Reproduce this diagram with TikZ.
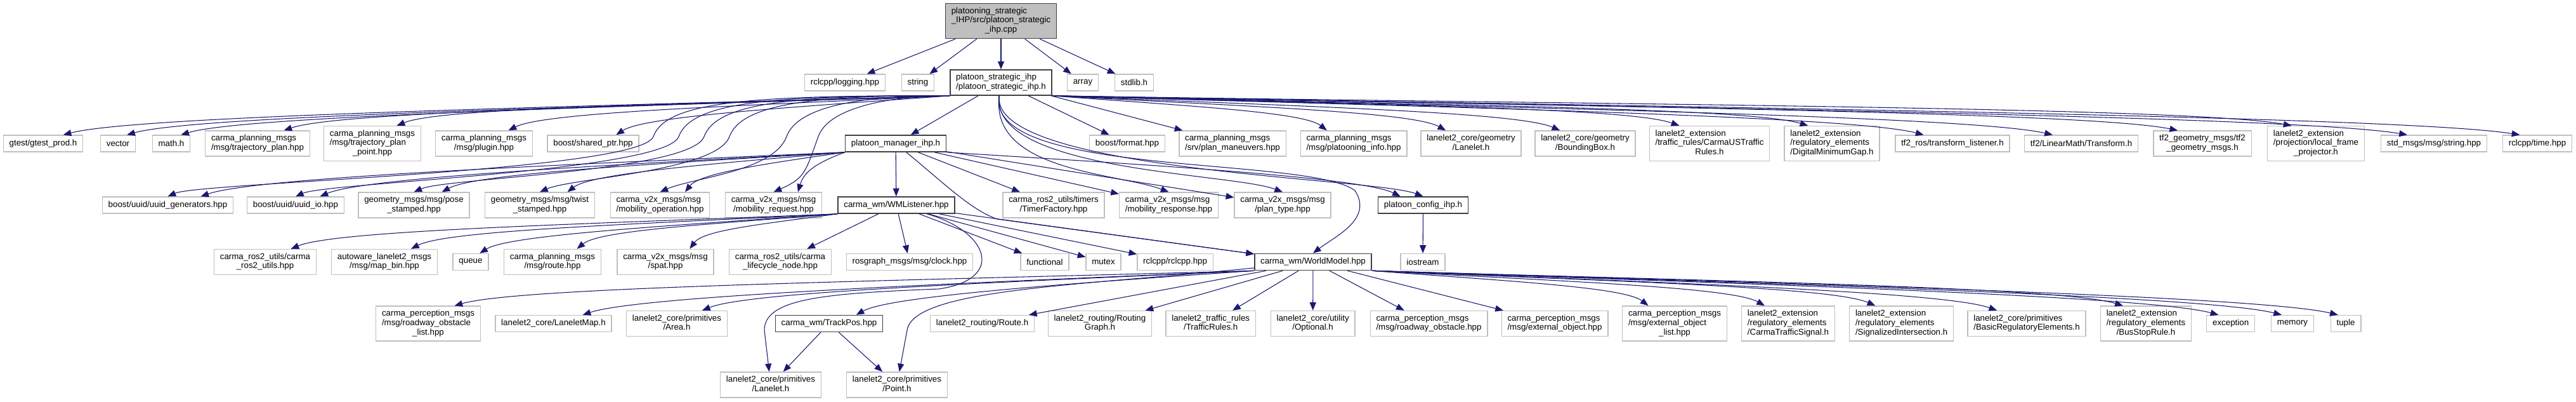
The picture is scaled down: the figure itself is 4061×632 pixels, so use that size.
\documentclass[tikz,border=0pt]{standalone}
\usepackage{fontspec}
\setmainfont{Liberation Sans}
\usetikzlibrary{arrows.meta,calc}
\definecolor{edgeblue}{RGB}{25,25,112}
\definecolor{boxgrey}{RGB}{191,191,191}
\definecolor{boxdark}{RGB}{64,64,64}
\newcommand{\twoline}[2]{\begin{tabular}{@{}l@{}}#1\\\multicolumn{1}{@{}c@{}}{#2}\end{tabular}}
\newcommand{\threeline}[3]{\begin{tabular}{@{}l@{}}#1\\#2\\\multicolumn{1}{@{}c@{}}{#3}\end{tabular}}
% include arrow: leaves flat, drops onto the top of the target (on the side facing the source)
\newcommand{\dep}[2]{\draw[dep] let \p1=(#1), \p2=(#2.north), \p3=(#2.north east), \n1={0.5*(\x3-\x2)*sign(\x2-\x1)} in (#1) .. controls ({\x1+0.45*(\x2-\x1)},{\y1+0.3*(\y2-\y1)}) and ({\x2-\n1-0.08*(\x2-\x1)},{\y2+22pt}) .. ({\x2-\n1},\y2);}
% from the header, down through the gap left of the manager
\newcommand{\sdep}[2]{\draw[dep] (stratH.south west) .. controls (#2+150,150) and (#2+20,160) .. (#2,215) .. controls (#2-20,270) and ($(#1.north)+(50,-22)$) .. (#1.north);}
% from the header, down first and then to the right
\newcommand{\ddep}[1]{\draw[dep] (stratH) .. controls (1560,270) and ($(#1.north)+(-80,-30)$) .. (#1.north);}

\begin{document}
\begin{tikzpicture}[x=0.75pt,y=-0.75pt,
  hdr/.style={draw=boxgrey,line width=1pt,fill=white,font=\fontsize{10}{11}\selectfont,
    inner xsep=7pt,inner ysep=0pt,minimum height=19.5pt},
  two/.style={minimum height=30pt},
  three/.style={minimum height=41.25pt},
  own/.style={draw=boxdark,line width=1.2pt},
  root/.style={fill=boxgrey,draw=boxdark,line width=1.2pt},
  dep/.style={draw=edgeblue,line width=0.8pt,-{Triangle[length=9.5pt,width=7.5pt]}}]
  \useasboundingbox (0,0) rectangle (4061,632);

  % source file and its direct includes
  \node[hdr,three,root] (root) at (1578,33) {\threeline{platooning\_strategic}{\_IHP/src/platoon\_strategic}{\_ihp.cpp}};
  \node[hdr] (logging) at (1332,130) {rclcpp/logging.hpp};
  \node[hdr] (string)  at (1447,130) {string};
  \node[hdr,two,own] (stratH) at (1578,130) {\twoline{platoon\_strategic\_ihp}{/platoon\_strategic\_ihp.h}};
  \node[hdr] (array)   at (1707,130) {array};
  \node[hdr] (stdlib)  at (1788,130) {stdlib.h};

  % headers of platoon_strategic_ihp.h
  \node[hdr] (gtest)  at (68,226)  {gtest/gtest\_prod.h};
  \node[hdr] (vector) at (186,226) {vector};
  \node[hdr] (mathh)  at (270,226) {math.h};
  \node[hdr,two]   (trajplan)  at (406,226) {\twoline{carma\_planning\_msgs}{/msg/trajectory\_plan.hpp}};
  \node[hdr,three] (trajpoint) at (587,226) {\threeline{carma\_planning\_msgs}{/msg/trajectory\_plan}{\_point.hpp}};
  \node[hdr,two]   (plugin)    at (763,226) {\twoline{carma\_planning\_msgs}{/msg/plugin.hpp}};
  \node[hdr] (sharedptr) at (935,226) {boost/shared\_ptr.hpp};
  \node[hdr,own] (manager) at (1412,226) {platoon\_manager\_ihp.h};
  \node[hdr] (format) at (1777,226) {boost/format.hpp};
  \node[hdr,two]   (planman)    at (1943,226) {\twoline{carma\_planning\_msgs}{/srv/plan\_maneuvers.hpp}};
  \node[hdr,two]   (platinfo)   at (2134,226) {\twoline{carma\_planning\_msgs}{/msg/platooning\_info.hpp}};
  \node[hdr,two]   (geolanelet) at (2319,226) {\twoline{lanelet2\_core/geometry}{/Lanelet.h}};
  \node[hdr,two]   (bbox)       at (2499,226) {\twoline{lanelet2\_core/geometry}{/BoundingBox.h}};
  \node[hdr,three] (usrules)    at (2695,226) {\threeline{lanelet2\_extension}{/traffic\_rules/CarmaUSTraffic}{Rules.h}};
  \node[hdr,three] (mingap)     at (2888,226) {\threeline{lanelet2\_extension}{/regulatory\_elements}{/DigitalMinimumGap.h}};
  \node[hdr] (tflisten) at (3078,226) {tf2\_ros/transform\_listener.h};
  \node[hdr] (tftrans)  at (3281,226) {tf2/LinearMath/Transform.h};
  \node[hdr,two]   (tfgeom)    at (3472,226) {\twoline{tf2\_geometry\_msgs/tf2}{\_geometry\_msgs.h}};
  \node[hdr,three] (projector) at (3651,226) {\threeline{lanelet2\_extension}{/projection/local\_frame}{\_projector.h}};
  \node[hdr] (stdstr)  at (3837,226) {std\_msgs/msg/string.hpp};
  \node[hdr] (rcltime) at (4000,226) {rclcpp/time.hpp};

  % third row
  \node[hdr] (uuidgen) at (264.5,323) {boost/uuid/uuid\_generators.hpp};
  \node[hdr] (uuidio)  at (466,323)   {boost/uuid/uuid\_io.hpp};
  \node[hdr,two] (posest)  at (652.5,323)  {\twoline{geometry\_msgs/msg/pose}{\_stamped.hpp}};
  \node[hdr,two] (twistst) at (851,323)    {\twoline{geometry\_msgs/msg/twist}{\_stamped.hpp}};
  \node[hdr,two] (mobop)   at (1040.5,323) {\twoline{carma\_v2x\_msgs/msg}{/mobility\_operation.hpp}};
  \node[hdr,two] (mobreq)  at (1219.5,323) {\twoline{carma\_v2x\_msgs/msg}{/mobility\_request.hpp}};
  \node[hdr,own] (wmlisten) at (1413,323) {carma\_wm/WMListener.hpp};
  \node[hdr,two] (timer)    at (1661,323)   {\twoline{carma\_ros2\_utils/timers}{/TimerFactory.hpp}};
  \node[hdr,two] (mobresp)  at (1842.5,323) {\twoline{carma\_v2x\_msgs/msg}{/mobility\_response.hpp}};
  \node[hdr,two] (plantype) at (2022,323)   {\twoline{carma\_v2x\_msgs/msg}{/plan\_type.hpp}};
  \node[hdr,own] (config) at (2243.5,323) {platoon\_config\_ihp.h};

  % fourth row
  \node[hdr,two] (ros2utils) at (418,412.5) {\twoline{carma\_ros2\_utils/carma}{\_ros2\_utils.hpp}};
  \node[hdr,two] (mapbin)    at (606,412.5) {\twoline{autoware\_lanelet2\_msgs}{/msg/map\_bin.hpp}};
  \node[hdr] (queue) at (742,412.5) {queue};
  \node[hdr,two] (route)     at (871,412.5)  {\twoline{carma\_planning\_msgs}{/msg/route.hpp}};
  \node[hdr,two] (spat)      at (1049,412.5) {\twoline{carma\_v2x\_msgs/msg}{/spat.hpp}};
  \node[hdr,two] (lifecycle) at (1230,412.5) {\twoline{carma\_ros2\_utils/carma}{\_lifecycle\_node.hpp}};
  \node[hdr] (clock)      at (1434,412.5)   {rosgraph\_msgs/msg/clock.hpp};
  \node[hdr] (functional) at (1647,412.5)   {functional};
  \node[hdr] (mutex)      at (1739.5,412.5) {mutex};
  \node[hdr] (rclcpp)     at (1852.6,412.5) {rclcpp/rclcpp.hpp};
  \node[hdr,own] (worldmodel) at (2070,412.5) {carma\_wm/WorldModel.hpp};
  \node[hdr] (iostream)   at (2243,412.5)   {iostream};

  % headers of WorldModel.hpp
  \node[hdr,three] (obstlist) at (675,509.5) {\threeline{carma\_perception\_msgs}{/msg/roadway\_obstacle}{\_list.hpp}};
  \node[hdr] (laneletmap) at (872.5,509.5) {lanelet2\_core/LaneletMap.h};
  \node[hdr,two] (area) at (1067,509.5) {\twoline{lanelet2\_core/primitives}{/Area.h}};
  \node[hdr,own] (trackpos) at (1307,509.5) {carma\_wm/TrackPos.hpp};
  \node[hdr] (routeh) at (1548.6,509.5) {lanelet2\_routing/Route.h};
  \node[hdr,two] (routinggraph) at (1734,509.5)   {\twoline{lanelet2\_routing/Routing}{Graph.h}};
  \node[hdr,two] (trafficrules) at (1908.7,509.5) {\twoline{lanelet2\_traffic\_rules}{/TrafficRules.h}};
  \node[hdr,two] (optional)     at (2069.6,509.5) {\twoline{lanelet2\_core/utility}{/Optional.h}};
  \node[hdr,two] (obstacle)     at (2252.5,509.5) {\twoline{carma\_perception\_msgs}{/msg/roadway\_obstacle.hpp}};
  \node[hdr,two] (extobj)       at (2451,509.5)   {\twoline{carma\_perception\_msgs}{/msg/external\_object.hpp}};
  \node[hdr,three] (extlist)      at (2640,509.5)   {\threeline{carma\_perception\_msgs}{/msg/external\_object}{\_list.hpp}};
  \node[hdr,three] (signal)       at (2819,509.5)   {\threeline{lanelet2\_extension}{/regulatory\_elements}{/CarmaTrafficSignal.h}};
  \node[hdr,three] (intersection) at (2997.6,509.5) {\threeline{lanelet2\_extension}{/regulatory\_elements}{/SignalizedIntersection.h}};
  \node[hdr,two]   (basicreg)     at (3195,509.5)   {\twoline{lanelet2\_core/primitives}{/BasicRegulatoryElements.h}};
  \node[hdr,three] (busstop)      at (3383,509.5)   {\threeline{lanelet2\_extension}{/regulatory\_elements}{/BusStopRule.h}};
  \node[hdr] (exception) at (3516.6,509.5) {exception};
  \node[hdr] (memory)    at (3614,509.5)   {memory};
  \node[hdr] (tuple)     at (3698,509.5)   {tuple};

  % bottom row
  \node[hdr,two] (primlanelet) at (1215,606) {\twoline{lanelet2\_core/primitives}{/Lanelet.h}};
  \node[hdr,two] (point)       at (1414,606) {\twoline{lanelet2\_core/primitives}{/Point.h}};

  % includes of the source file
  \foreach \tgt in {logging,string,stratH,array,stdlib} {\draw[dep] (root) -- (\tgt);}

  % includes of platoon_strategic_ihp.h
  \foreach \tgt in {gtest,vector,mathh,trajplan,trajpoint,plugin,sharedptr} {\dep{stratH.south west}{\tgt}}
  \foreach \tgt in {manager,format,planman} {\draw[dep] (stratH) -- (\tgt);}
  \foreach \tgt in {platinfo,geolanelet,bbox,usrules,mingap,tflisten,tftrans,tfgeom,projector,stdstr,rcltime} {\dep{stratH.south east}{\tgt}}
  \foreach \tgt/\gx in {uuidgen/1030,uuidio/1070,posest/1110,twistst/1150,mobop/1240,mobreq/1290} {\sdep{\tgt}{\gx}}
  \foreach \tgt in {mobresp,plantype,config} {\ddep{\tgt}}
  \draw[dep] (stratH) .. controls (1555,280) and (2060,245) .. (2136,300) .. controls (2165,345) and (2105,372) .. (worldmodel.north);

  % includes of platoon_manager_ihp.h
  \foreach \tgt in {uuidgen,uuidio,posest,twistst,mobop,mobreq} {\dep{manager.south west}{\tgt}}
  \foreach \tgt in {wmlisten,timer,mobresp,plantype} {\draw[dep] (manager) -- (\tgt);}
  \dep{manager.south east}{config}
  \draw[dep] (manager) .. controls (1490,290) and (1530,330) .. (1572,345) -- (worldmodel);
  \draw[dep] (config) -- (iostream);

  % includes of WMListener.hpp
  \foreach \tgt in {ros2utils,mapbin,queue,route,spat} {\dep{wmlisten.south west}{\tgt}}
  \foreach \tgt in {lifecycle,clock,functional,mutex,rclcpp,worldmodel} {\draw[dep] (wmlisten) -- (\tgt);}
  \draw[dep] (wmlisten) .. controls (1560,365) and (1585,440) .. (1480,455) .. controls (1300,462) and (1205,470) .. (1205,520) -- (primlanelet);

  % includes of WorldModel.hpp
  \foreach \tgt in {obstlist,laneletmap,area,trackpos} {\dep{worldmodel.south west}{\tgt}}
  \foreach \tgt in {routeh,routinggraph,trafficrules,optional,obstacle,extobj} {\draw[dep] (worldmodel) -- (\tgt);}
  \foreach \tgt in {extlist,signal,intersection,basicreg,busstop,exception,memory,tuple} {\dep{worldmodel.south east}{\tgt}}
  \draw[dep] (worldmodel) .. controls (1700,450) and (1440,455) .. (1430,520) -- (point);
  \draw[dep] (trackpos) -- (primlanelet);
  \draw[dep] (trackpos) -- (point);
\end{tikzpicture}
\end{document}
